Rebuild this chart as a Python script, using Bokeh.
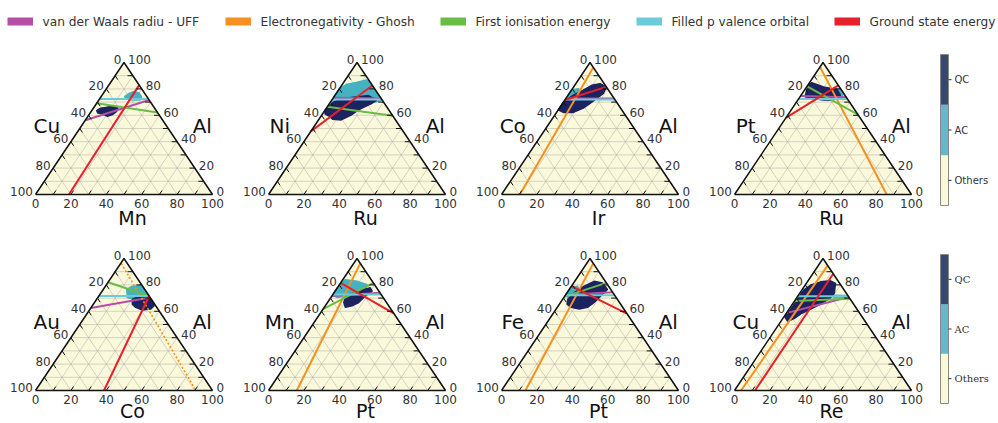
from bokeh.plotting import figure
from bokeh.layouts import column, row
from bokeh.models import Range1d
from bokeh.core.properties import value
from bokeh.embed import file_html
from bokeh.resources import INLINE

# ---------------- data (compositions in %, as (bottom element, Al)) ----------------
LEFT_ELEMENTS = ["Cu", "Ni", "Co", "Pt", "Au", "Mn", "Fe", "Cu"]
BOTTOM_ELEMENTS = ["Mn", "Ru", "Ir", "Ru", "Co", "Pt", "Pt", "Re"]
RIGHT_ELEMENT = "Al"
TICK_VALUES = [0, 20, 40, 60, 80, 100]

CRITERIA = ["van der Waals radiu - UFF", "Electronegativity - Ghosh",
            "First ionisation energy", "Filled p valence orbital",
            "Ground state energy"]
CRITERIA_COLORS = ["#b44fa5", "#f7901e", "#69bc45", "#6ccbdb", "#e8202a"]

VDW_LINES = [[(0, 56.3), (28.4, 71.6)], [(0, 73.3), (27.3, 72.7)],
             [(0, 72.8), (27.2, 72.8)], [(0, 74.6), (26.4, 73.6)],
             [(0, 62.5), (29.6, 70.4)], [(0, 71.6), (25.9, 74.1)],
             [(0, 72.5), (25.5, 74.5)], [(0, 58.6), (29.1, 70.9)]]
EN_LINES = [None, None,
            [(10.4, 0), (3.7, 96.3)], [(0.3, 96.3), (86.0, 0)],
            [(0.3, 96.3), (90.6, 0)], [(16.0, 0), (3.7, 96.3)],
            [(13.5, 0), (3.7, 96.3)], [(3.7, 0), (5.3, 94.4)]]
EN_DOTTED = [False, False, False, False, True, False, False, False]
IE_LINES = [[(0, 69.1), (37.8, 62.2)], [(0, 66.4), (40.3, 59.7)],
            None, [(0, 82.0), (39.5, 60.5)],
            [(0, 82.0), (28.4, 71.6)], [(0, 61.7), (18.5, 81.5)],
            [(0, 71.1), (18.5, 81.5)], [(0, 67.8), (30.5, 69.5)]]
PVAL_LINES = [[(0, 72.3), (27.7, 72.3)], [(0, 71.9), (28.1, 71.9)],
              [(0, 72.0), (28.0, 72.0)], [(0, 72.3), (27.7, 72.3)],
              [(0, 71.6), (28.4, 71.6)], [(0, 72.8), (27.2, 72.8)],
              [(0, 72.1), (27.9, 72.1)], [(0, 71.4), (28.6, 71.4)]]
GSE_LINES = [[(18.9, 0), (17.1, 82.7)], [(0, 47.8), (17.4, 82.6)],
             [(0, 71.6), (18.5, 81.5)], [(0, 58.0), (17.3, 82.7)],
             [(38.7, 0), (28.4, 71.6)], [(0, 81.5), (41.5, 58.5)],
             [(0, 79.0), (41.3, 58.5)], [(11.6, 0), (11.6, 88.4)]]

QC_REGIONS = [
    [(2.8, 63.5), (4.1, 65.4), (7.5, 66.2), (11.0, 66.7), (13.9, 65.4), (14.3, 63.0),
     (13.2, 60.5), (11.0, 59.3), (7.1, 61.2), (4.4, 61.7)],
    [(0, 63.5), (1.5, 69.5), (5, 72.5), (10, 73.5), (14, 74), (18.7, 75.1), (25.3, 71.4),
     (23.7, 68.9), (21.1, 66.4), (18.6, 63.9), (16.6, 60.2), (12.8, 56.5), (7.7, 57.0),
     (4.5, 59.5), (1.5, 61)],
    [(0, 64.2), (0, 70.4), (3.0, 75.3), (6.7, 79.0), (9.6, 82.7), (13.7, 84.0), (18.5, 81.5),
     (19.3, 76.5), (17.4, 72.8), (15.5, 69.1), (13.5, 65.4), (9.5, 62.2), (3.8, 62.2)],
    [(0.4, 82.7), (1.3, 84.7), (9.6, 81.5), (18.2, 79.5), (22.2, 75.3), (20.2, 71.6),
     (14.5, 71.6), (8.2, 72.8), (2.8, 74.1), (1.3, 79.0)],
    [(20.2, 69.1), (23.6, 71.6), (29.0, 70.4), (32.0, 67.9), (34.9, 64.2), (34.3, 61.7),
     (29.9, 61.0), (25.1, 63.0), (22.0, 65.4)],
    [(8.2, 70.4), (11.1, 74.1), (15.6, 76.5), (18.6, 77.8), (20.9, 75.3), (18.9, 71.6),
     (17.6, 66.7), (15.1, 64.2), (11.9, 63.0), (9.2, 66.7)],
    [(2.9, 69.1), (4.1, 74.1), (7.2, 79.0), (11.0, 82.7), (16.3, 81.5), (21.6, 76.5),
     (20.3, 71.6), (19.0, 66.7), (17.1, 63.0), (13.1, 61.7), (7.8, 63.0), (4.3, 65.4)],
    [(0.6, 55.7), (1.0, 61.7), (1.0, 69.0), (1.1, 76.3), (3.1, 79.9), (7.5, 82.3),
     (12.7, 83.1), (16.5, 81.1), (19.5, 73.8), (19.1, 70.2), (15.9, 65.4), (12.2, 61.7),
     (8.4, 58.1), (6.4, 54.5), (3.7, 52.5)],
]
AC_REGIONS = [
    [(13.3, 74.1), (14.6, 76.5), (16.7, 78.0), (20.0, 77.0), (22.8, 74.1), (23.3, 71.6),
     (19.9, 71.6), (15.8, 72.1)],
    [(0, 73.9), (0, 80.1), (2.2, 83.3), (7.1, 84.8), (11.8, 86.8), (14.5, 85.1), (18.5, 81.3),
     (23.4, 76.4), (28.5, 71.4), (25.0, 70.1), (19.6, 69.4), (12.3, 68.9), (4.9, 68.2),
     (1.5, 69.4)],
    [(0, 74.1), (0, 79.0), (3.3, 80.2), (6.8, 77.0), (4.5, 74.1)],
    [(16.3, 79.5), (19.7, 80.2), (23.3, 76.5), (23.9, 73.6), (19.9, 74.1)],
    [(13.3, 76.5), (15.2, 79.0), (20.3, 79.5), (23.4, 76.5), (28.4, 71.6), (26.8, 69.1),
     (21.2, 69.1), (16.7, 70.4)],
    [(0, 72.8), (0, 77.8), (1.4, 84.0), (8.7, 82.7), (15.6, 80.2), (16.5, 76.5), (13.0, 74.1),
     (8.5, 71.6), (3.5, 70.4)],
    [(0, 72.8), (0, 77.8), (3.5, 79.0), (6.3, 75.3), (5.3, 71.6), (2.2, 70.4)],
    [(20.0, 72.2), (27.6, 71.9), (27.6, 70.0), (21.0, 70.2)],
]

CLASS_LABELS = ["Others", "AC", "QC"]
CLASS_VALUES = [0, 1, 2]
CLASS_BAR_COLORS = ["#f9f9da", "#63b9c5", "#37476f"]

# ---------------- styles / layout ----------------
BG = "#fbf9dc"
AC_COLOR = "#45b2c2"
QC_COLOR = "#1c2360"
PANEL_W = 233
CB_W = 66
TOTAL_W = 4 * PANEL_W + CB_W
LEG_H = 40
ROW_H = [198, 185]
ROW_TRI_TOP = [22, 20]          # apex pixel row inside each row of panels
ROW_NAME_OFFSET = [23, 20]      # bottom element name offset below the base (pixels)
TRI_H = 132                     # triangle height in pixels
TRI_LEFT, TRI_RIGHT = 35, 212   # pixel columns of the triangle base inside a panel
CB_BAR = [(14, 165), (16, 165)]  # colour bar top/bottom pixel rows in each row
CB_BAR_X, CB_BAR_W = 8, 8
LEG_PATCH_LEFT = [7, 225, 440, 636, 834]   # legend layout (pixels)
LEG_ROW_Y = 21
FONT = value("DejaVu Sans")


def txy(points):
    return [a + b / 2.0 for a, b in points], [float(b) for a, b in points]


def make_panel(i, height, tri_top, name_off):
    tri_base = tri_top + TRI_H
    sx = (TRI_RIGHT - TRI_LEFT) / 100.0
    sy = TRI_H / 100.0
    p = figure(width=PANEL_W, height=height, output_backend="svg", toolbar_location=None,
               x_range=Range1d(-TRI_LEFT / sx, (PANEL_W - TRI_LEFT) / sx),
               y_range=Range1d((tri_base - height) / sy, tri_base / sy),
               min_border=0, x_axis_location=None, y_axis_location=None)
    p.grid.visible = False
    p.outline_line_color = None
    p.background_fill_color = "white"
    p.border_fill_color = "white"

    tx, ty = txy([(0, 0), (100, 0), (0, 100)])
    p.patch(tx, ty, fill_color=BG, line_color=None)

    gx, gy = [], []
    for k in range(10, 100, 10):
        for seg in (((0, k), (100 - k, k)), ((k, 0), (k, 100 - k)), ((100 - k, 0), (0, 100 - k))):
            xs, ys = txy(seg)
            gx.append(xs)
            gy.append(ys)
    p.multi_line(gx, gy, line_color="#a5a59c", line_width=0.7, line_alpha=0.65)

    ax, ay = txy(AC_REGIONS[i])
    p.patch(ax, ay, fill_color=AC_COLOR, line_color=AC_COLOR, line_width=1.5)
    qx, qy = txy(QC_REGIONS[i])
    p.patch(qx, qy, fill_color=QC_COLOR, line_color=QC_COLOR, line_width=1.5)

    for c, lines in enumerate([VDW_LINES, EN_LINES, IE_LINES, PVAL_LINES, GSE_LINES]):
        seg = lines[i]
        if seg is None:
            continue
        xs, ys = txy(seg)
        if c == 1 and EN_DOTTED[i]:
            p.line(xs, ys, line_color=CRITERIA_COLORS[c], line_width=1.6, line_dash="2 2")
        else:
            p.line(xs, ys, line_color=CRITERIA_COLORS[c], line_width=2)

    bx, by = txy([(0, 0), (100, 0), (0, 100), (0, 0)])
    p.line(bx, by, line_color="#111111", line_width=1.5)

    T = 3
    kx, ky = [], []
    for k in range(10, 100, 10):
        for seg in (((k, 0), (k, T)), ((0, 100 - k), (T, 100 - k - T)), ((100 - k, k), (100 - k - T, k))):
            xs, ys = txy(seg)
            kx.append(xs)
            ky.append(ys)
    p.multi_line(kx, ky, line_color="#111111", line_width=1)

    lab_col = "#333333"
    bxs, bys = txy([(v, 0) for v in TICK_VALUES])
    p.text(bxs, bys, text=[str(v) for v in TICK_VALUES], text_font=FONT, text_font_size="12px",
           text_color=lab_col, text_align="center", text_baseline="middle", y_offset=9)
    lxs, lys = txy([(0, 100 - v) for v in TICK_VALUES])
    p.text(lxs, lys, text=[str(v) for v in TICK_VALUES], text_font=FONT, text_font_size="12px",
           text_color=lab_col, text_align="right", text_baseline="middle", x_offset=-2.5, y_offset=-3)
    rxs, rys = txy([(100 - v, v) for v in TICK_VALUES])
    p.text(rxs, rys, text=[str(v) for v in TICK_VALUES], text_font=FONT, text_font_size="12px",
           text_color=lab_col, text_align="left", text_baseline="middle", x_offset=4, y_offset=-3)

    ex, ey = txy([(0, 50)])
    p.text(ex, ey, text=[LEFT_ELEMENTS[i]], text_font=FONT, text_font_size="20px",
           text_color="#111111", text_align="center", text_baseline="middle", x_offset=-33, y_offset=-3)
    ex, ey = txy([(50, 50)])
    p.text(ex, ey, text=[RIGHT_ELEMENT], text_font=FONT, text_font_size="20px",
           text_color="#111111", text_align="center", text_baseline="middle", x_offset=34, y_offset=-3)
    ex, ey = txy([(50, 0)])
    p.text(ex, ey, text=[BOTTOM_ELEMENTS[i]], text_font=FONT, text_font_size="19px",
           text_color="#111111", text_align="center", text_baseline="middle", x_offset=8.5,
           y_offset=name_off)
    return p


def make_cbar(height, bar_top, bar_bottom, font):
    n = len(CLASS_LABELS)
    ppu = (bar_bottom - bar_top) / float(n)      # pixels per class unit
    p = figure(width=CB_W, height=height, output_backend="svg", toolbar_location=None,
               x_range=Range1d(0, CB_W),
               y_range=Range1d(-(height - bar_bottom) / ppu, n + bar_top / ppu),
               min_border=0, x_axis_location=None, y_axis_location=None)
    p.grid.visible = False
    p.outline_line_color = None
    x0, x1 = CB_BAR_X, CB_BAR_X + CB_BAR_W
    p.quad(left=x0, right=x1, bottom=CLASS_VALUES, top=[v + 1 for v in CLASS_VALUES],
           fill_color=CLASS_BAR_COLORS, line_color=None)
    p.line(x=[x0, x1, x1, x0, x0], y=[0, 0, n, n, 0], line_color="#8a8a8a", line_width=1)
    mids = [v + 0.5 for v in CLASS_VALUES]
    p.segment(x0=x1, x1=x1 + 3, y0=mids, y1=mids, line_color="#333333", line_width=1)
    p.text(x=x1 + 6, y=mids, text=CLASS_LABELS, text_font=value(font),
           text_font_size="10px", text_color="#333333", text_align="left", text_baseline="middle")
    return p


# legend strip (pixel-unit ranges, y pointing down)
leg = figure(width=TOTAL_W, height=LEG_H, output_backend="svg", toolbar_location=None,
             x_range=Range1d(0, TOTAL_W), y_range=Range1d(LEG_H, 0), min_border=0,
             x_axis_location=None, y_axis_location=None)
leg.grid.visible = False
leg.outline_line_color = None
leg.rect(x=[x + 12.75 for x in LEG_PATCH_LEFT], y=[LEG_ROW_Y] * 5, width=25.5, height=8,
         fill_color=CRITERIA_COLORS, line_color=None)
leg.text(x=[x + 35 for x in LEG_PATCH_LEFT], y=[LEG_ROW_Y] * 5, text=CRITERIA,
         text_font=FONT, text_font_size="12.2px", text_color="#333333",
         text_align="left", text_baseline="middle")

row1 = row([make_panel(i, ROW_H[0], ROW_TRI_TOP[0], ROW_NAME_OFFSET[0]) for i in range(4)] +
           [make_cbar(ROW_H[0], CB_BAR[0][0], CB_BAR[0][1], "DejaVu Sans")])
row2 = row([make_panel(i, ROW_H[1], ROW_TRI_TOP[1], ROW_NAME_OFFSET[1]) for i in range(4, 8)] +
           [make_cbar(ROW_H[1], CB_BAR[1][0], CB_BAR[1][1], "DejaVu Serif")])
page = column(leg, row1, row2)

open("out.html", "w").write(file_html(page, INLINE))
